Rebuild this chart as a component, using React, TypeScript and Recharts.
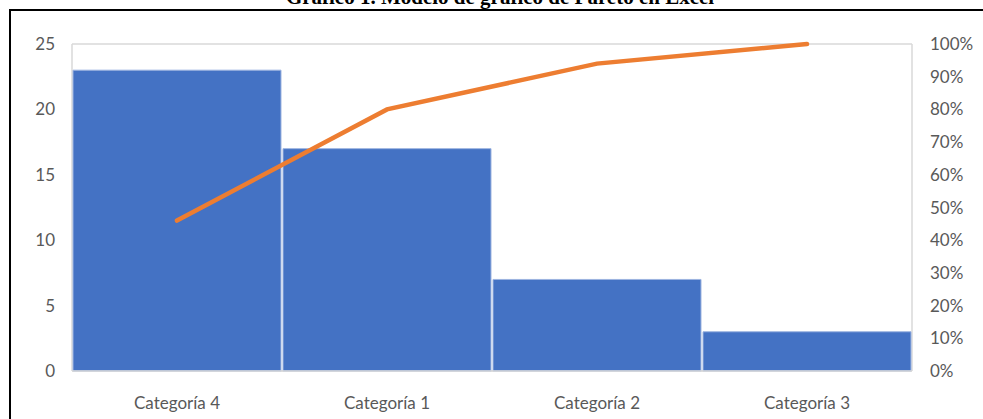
import React from 'react';
import {
  ComposedChart,
  Bar,
  Line,
  XAxis,
  YAxis,
  CartesianGrid,
} from 'recharts';

// values
const categories = ['Categoría 4', 'Categoría 1', 'Categoría 2', 'Categoría 3'];
const counts = [23, 17, 7, 3];
const cumulative = [0.46, 0.8, 0.94, 1.0];
const leftTicks = [0, 5, 10, 15, 20, 25];
const rightTicks = [0, 0.1, 0.2, 0.3, 0.4, 0.5, 0.6, 0.7, 0.8, 0.9, 1.0];

const data = categories.map((name, i) => ({
  name,
  count: counts[i],
  cum: cumulative[i],
}));

const tickStyle = { fill: '#595959', fontSize: 17, fontFamily: 'Lato, "Open Sans", sans-serif' };

const App: React.FC = () => {
  return (
    <div style={{ position: 'absolute', left: 0, top: 0, width: 983, height: 419, background: '#fff', overflow: 'hidden' }}>
      {/* title, cut off by the top of the picture as in the reference */}
      <div
        style={{
          position: 'absolute',
          left: 0,
          width: 1000,
          top: -15,
          textAlign: 'center',
          fontFamily: '"Liberation Serif", serif',
          fontWeight: 'bold',
          fontSize: 21,
          color: '#000',
          whiteSpace: 'nowrap',
        }}
      >
        Gráfico 1. Modelo de gráfico de Pareto en Excel
      </div>
      {/* frame */}
      <div style={{ position: 'absolute', left: 10, top: 9, width: 990, height: 2, background: '#000' }} />
      <div style={{ position: 'absolute', left: 9, top: 9, width: 2, height: 420, background: '#000' }} />

      <ComposedChart
        width={983}
        height={419}
        data={data}
        margin={{ top: 44, right: 11, bottom: 0, left: 12 }}
        barCategoryGap={1}
        style={{ position: 'absolute', left: 0, top: 0 }}
      >
        <CartesianGrid
          stroke="#d9d9d9"
          strokeWidth={1.5}
          verticalCoordinatesGenerator={({ offset }: any) => [offset.left, offset.left + offset.width]}
        />
        <XAxis
          dataKey="name"
          height={48}
          axisLine={{ stroke: '#d9d9d9', strokeWidth: 1.5 }}
          tickLine={false}
          tickMargin={20}
          tick={tickStyle}
          interval={0}
        />
        <YAxis
          yAxisId="left"
          width={60}
          domain={[0, 25]}
          ticks={leftTicks}
          axisLine={false}
          tickLine={false}
          tickMargin={11}
          tick={tickStyle}
        />
        <YAxis
          yAxisId="right"
          orientation="right"
          width={60}
          domain={[0, 1]}
          ticks={rightTicks}
          axisLine={false}
          tickLine={false}
          tickMargin={12}
          tick={{ ...tickStyle, textAnchor: 'start' }}
          tickFormatter={(v: number) => `${Math.round(v * 100)}%`}
        />
        <Bar
          yAxisId="left"
          dataKey="count"
          fill="#4472C4"
          stroke="#9db4e0"
          strokeWidth={1}
          isAnimationActive={false}
        />
        <Line
          yAxisId="right"
          dataKey="cum"
          type="linear"
          stroke="#ED7D31"
          strokeWidth={4.5}
          strokeLinecap="round"
          dot={false}
          activeDot={false}
          isAnimationActive={false}
        />
      </ComposedChart>
    </div>
  );
};

export default App;
